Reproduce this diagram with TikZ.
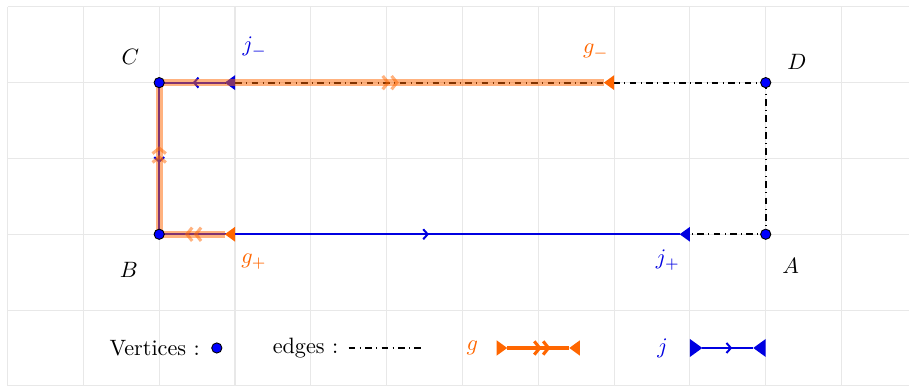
\documentclass[tikz,border=0pt]{standalone}
\usetikzlibrary{arrows.meta,decorations.markings}
\definecolor{gcol}{RGB}{255,102,0}
\definecolor{jcol}{RGB}{0,0,225}
\tikzset{
  gridline/.style={gray!18, line width=0.5pt},
  edge/.style={dash dot, line width=0.9pt},
  vertex/.style={circle, draw=black, fill=blue, inner sep=0pt, minimum size=4.6pt, line width=0.4pt},
  endtip/.style={{Triangle[reversed, length=#1, width=1.45*#1, line width=0pt 0]}-{Triangle[reversed, length=#1, width=1.45*#1, line width=0pt 0]}},
  jmid/.style={postaction={decorate, decoration={markings,
    mark=at position #1 with {\arrow[xshift=2pt]{Straight Barb[length=2pt, width=4.5pt, line width=0.9pt]}}}}},
  gmid/.style={postaction={decorate, decoration={markings,
    mark=at position #1 with {\arrow[xshift=5.5pt]{Straight Barb[length=2.4pt, width=6pt, line width=1.4pt] Straight Barb[length=2.4pt, width=6pt, line width=1.4pt]}}}}},
  jpath/.style={draw=jcol, line width=0.9pt, endtip=4.6pt},
  gpath/.style={draw=gcol, line width=3.2pt, draw opacity=0.5, endtip=4.6pt},
}
\begin{document}
\begin{tikzpicture}[x=1.2cm, y=1.2cm]
  \useasboundingbox (-0.1,-0.03) rectangle (11.89,5.09);
  % 网格
  \draw[gridline, step=1.2cm] (0,0) grid (11.89,5);

  % 顶点
  \coordinate (A) at (10,2);
  \coordinate (B) at (2,2);
  \coordinate (C) at (2,4);
  \coordinate (D) at (10,4);
  \coordinate (jm) at (3,4);
  \coordinate (jp) at (9,2);
  \coordinate (gm) at (8,4);
  \coordinate (gp) at (3,2);

  % 边
  \draw[edge] (D) -- (A) -- (B) -- (C) -- (D);

  % 路径 j 与 g
  \draw[jpath, jmid=0.05, jmid=0.2, jmid=0.65] (jm) -- (C) -- (B) -- (jp);
  \draw[gpath, gmid=0.0556, gmid=0.2222, gmid=0.6667] (gp) -- (B) -- (C) -- (gm);

  \foreach \v in {A,B,C,D}
    \node[vertex] (v\v) at (\v) {};

  % 标注
  \node (lA) at (10.33,1.58) {$A$};
  \node (lB) at (1.6,1.53) {$B$};
  \node (lC) at (1.62,4.34) {$C$};
  \node (lD) at (10.41,4.27) {$D$};
  \node[text=jcol] (ljm) at (3.26,4.47) {$j_-$};
  \node[text=jcol] (ljp) at (8.71,1.66) {$j_+$};
  \node[text=gcol] (lgm) at (7.76,4.41) {$g_-$};
  \node[text=gcol] (lgp) at (3.25,1.64) {$g_+$};

  % 图例
  \node (kv) at (1.94,0.5) {Vertices :};
  \node[vertex] (kdot) at (2.76,0.5) {};
  \node (ke) at (3.93,0.5) {edges :};
  \coordinate (ke1) at (4.5,0.5);
  \coordinate (ke2) at (5.5,0.5);
  \draw[edge] (ke1) -- (ke2);
  \node[text=gcol] (kg) at (6.13,0.5) {$g$};
  \coordinate (kg1) at (6.45,0.5);
  \coordinate (kg2) at (7.55,0.5);
  \draw[draw=gcol, line width=2.2pt, endtip=4.8pt, gmid=0.5] (kg1) -- (kg2);
  \node[text=jcol] (kj) at (8.64,0.5) {$j$};
  \coordinate (kj1) at (9,0.5);
  \coordinate (kj2) at (10,0.5);
  \draw[jpath, endtip=5.6pt, jmid=0.5] (kj1) -- (kj2);
\end{tikzpicture}
\end{document}
